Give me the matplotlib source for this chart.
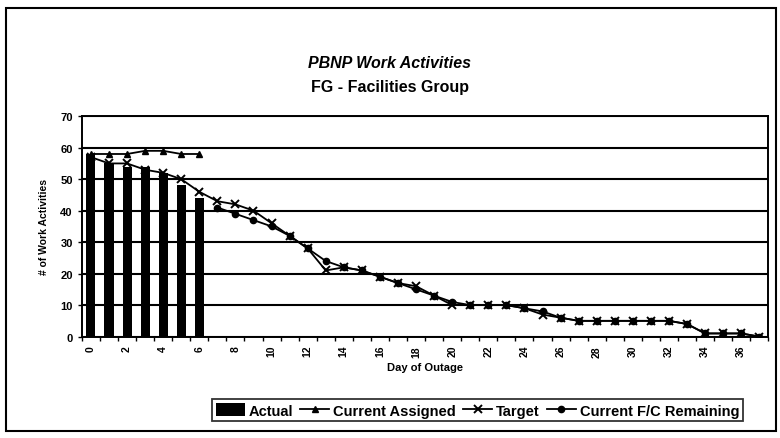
import matplotlib
matplotlib.use("Agg")
from matplotlib import pyplot as plt
from matplotlib.patches import Rectangle
import numpy as np

plt.rcParams['font.family'] = ['Liberation Sans', 'DejaVu Sans']
plt.rcParams['font.weight'] = 'bold'

# values
actual_days = [0, 1, 2, 3, 4, 5, 6]
actual = [58, 55, 54, 54, 52, 48, 44]

assigned_days = [0, 1, 2, 3, 4, 5, 6]
assigned = [58, 58, 58, 59, 59, 58, 58]

target_days = list(range(0, 38))
target = [57, 55, 55, 53, 52, 50, 46, 43, 42, 40, 36, 32, 28, 21, 22, 21, 19, 17, 16, 13,
          10, 10, 10, 10, 9, 7, 6, 5, 5, 5, 5, 5, 5, 4, 1, 1, 1, 0]

fc_days = list(range(7, 38))
fc_remaining = [41, 39, 37, 35, 32, 28, 24, 22, 21, 19, 17, 15, 13, 11, 10, 10, 10, 9, 8, 6,
                5, 5, 5, 5, 5, 5, 4, 1, 1, 1, 0]

xtick_days = list(range(0, 37, 2))

fig = plt.figure(figsize=(7.8, 4.39), dpi=100)
ax = fig.add_axes([0.105, 0.231, 0.880, 0.502])

bars = ax.bar(actual_days, actual, width=0.5, color='black', label='Actual', zorder=2)
l1, = ax.plot(assigned_days, assigned, color='black', lw=1.3, marker='^', ms=5,
              label='Current Assigned', zorder=3)
l2, = ax.plot(target_days, target, color='black', lw=1.3, marker='x', ms=6, mew=1.4,
              label='Target', zorder=3)
l3, = ax.plot(fc_days, fc_remaining, color='black', lw=1.3, marker='o', ms=4.5,
              label='Current F/C Remaining', zorder=3)

ax.set_xlim(-0.5, 37.5)
ax.set_ylim(0, 70)
ax.set_yticks(range(0, 71, 10))
ax.yaxis.grid(True, color='black', lw=1.5)
ax.set_axisbelow(True)
ax.set_xticks(xtick_days)
ax.set_xticks(np.arange(-0.5, 38, 1), minor=True)
ax.set_xticklabels([str(d) for d in xtick_days], rotation=90, fontsize=7.5, fontweight='bold')
ax.tick_params(axis='x', which='major', length=0, pad=6)
ax.tick_params(axis='x', which='minor', length=3, width=1)
ax.tick_params(axis='y', labelsize=8, length=3, width=1)
for lab in ax.get_yticklabels():
    lab.set_fontweight('bold')
for s in ax.spines.values():
    s.set_linewidth(1.4)

ax.set_xlabel('Day of Outage', fontsize=8, fontweight='bold', labelpad=4)
ax.set_ylabel('# of Work Activities', fontsize=7.5, fontweight='bold', labelpad=8)

fig.text(0.5, 0.855, 'PBNP Work Activities', ha='center', va='center',
         fontsize=11.5, fontweight='heavy', style='italic')
fig.text(0.5, 0.80, 'FG - Facilities Group', ha='center', va='center',
         fontsize=11.5, fontweight='heavy')

leg = fig.legend([bars, l1, l2, l3],
                 ['Actual', 'Current Assigned', 'Target', 'Current F/C Remaining'],
                 loc='center', bbox_to_anchor=(0.612, 0.063), ncol=4, frameon=True,
                 fancybox=False, edgecolor='black', fontsize=10.5, handlelength=2,
                 handleheight=1.0, handletextpad=0.25, columnspacing=0.5, borderpad=0.25,
                 borderaxespad=0)
leg.get_frame().set_linewidth(1.3)
for t in leg.get_texts():
    t.set_fontweight('bold')

fig.patches.append(Rectangle((0.008, 0.015), 0.987, 0.965, transform=fig.transFigure,
                             fill=False, edgecolor='black', lw=1.5))

fig.savefig('out.png', dpi=100)
